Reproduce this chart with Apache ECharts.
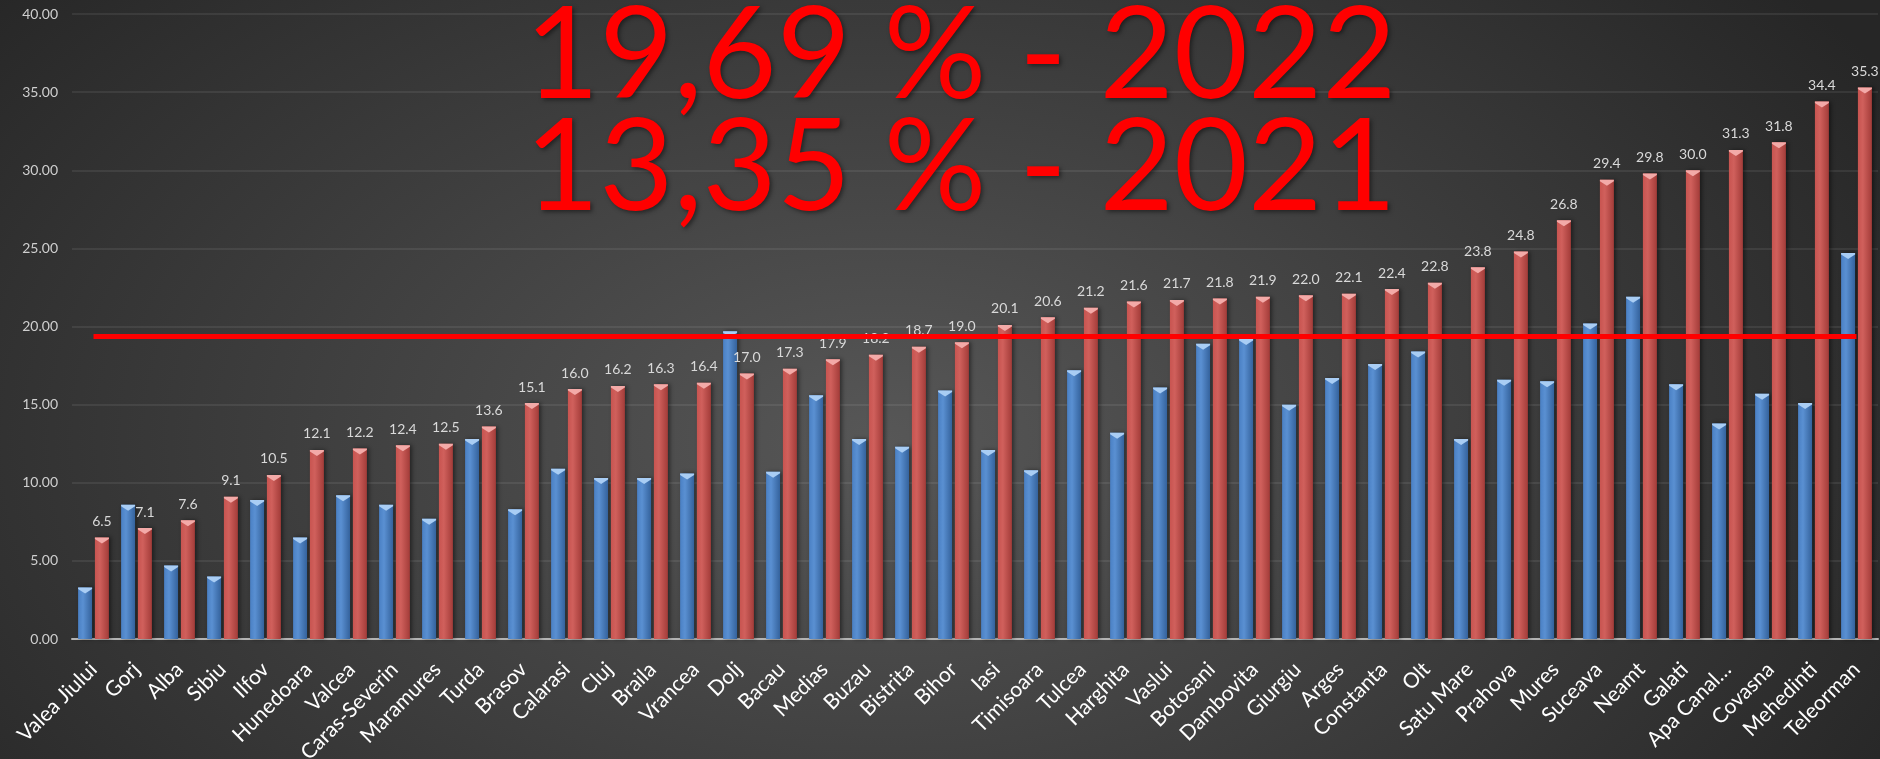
<!DOCTYPE html>
<html>
<head>
<meta charset="utf-8">
<title>Pierderi apa 2021 - 2022</title>
<script src="https://cdn.jsdelivr.net/npm/echarts@6/dist/echarts.min.js"></script>
<style>
  html, body { margin: 0; padding: 0; }
  #chart {
    width: 1880px;
    height: 759px;
    background: radial-gradient(ellipse 62% 95% at 47% 58%, #575757 0%, #3c3c3c 55%, #262626 100%);
  }
</style>
</head>
<body>
<div id="chart"></div>
<script>
// categories (operatori)
var categories = ['Valea Jiului', 'Gorj', 'Alba', 'Sibiu', 'Ilfov', 'Hunedoara', 'Valcea', 'Caras-Severin',
  'Maramures', 'Turda', 'Brasov', 'Calarasi', 'Cluj', 'Braila', 'Vrancea', 'Dolj', 'Bacau', 'Medias',
  'Buzau', 'Bistrita', 'Bihor', 'Iasi', 'Timisoara', 'Tulcea', 'Harghita', 'Vaslui', 'Botosani',
  'Dambovita', 'Giurgiu', 'Arges', 'Constanta', 'Olt', 'Satu Mare', 'Prahova', 'Mures', 'Suceava',
  'Neamt', 'Galati', 'Apa Canal…', 'Covasna', 'Mehedinti', 'Teleorman'];

// 2021 - blue bars (no labels)
var values2021 = [3.3, 8.6, 4.7, 4.0, 8.9, 6.5, 9.2, 8.6, 7.7, 12.8, 8.3, 10.9, 10.3, 10.3, 10.6,
  19.7, 10.7, 15.6, 12.8, 12.3, 15.9, 12.1, 10.8, 17.2, 13.2, 16.1, 18.9, 19.2, 15.0,
  16.7, 17.6, 18.4, 12.8, 16.6, 16.5, 20.2, 21.9, 16.3, 13.8, 15.7, 15.1, 24.7];

// 2022 - red bars (labelled)
var values2022 = [6.5, 7.1, 7.6, 9.1, 10.5, 12.1, 12.2, 12.4, 12.5, 13.6, 15.1, 16.0, 16.2, 16.3, 16.4,
  17.0, 17.3, 17.9, 18.2, 18.7, 19.0, 20.1, 20.6, 21.2, 21.6, 21.7, 21.8, 21.9, 22.0,
  22.1, 22.4, 22.8, 23.8, 24.8, 26.8, 29.4, 29.8, 30.0, 31.3, 31.8, 34.4, 35.3];

// hand drawn red reference line
var refLevel = 19.4;

var titleLines = ['19,69 % - 2022', '13,35 % - 2021'];

var FONT = 'Lato, "Open Sans", sans-serif';

function barGradient(edge, mid, dark) {
  return new echarts.graphic.LinearGradient(0, 0, 1, 0, [
    { offset: 0, color: edge },
    { offset: 0.35, color: mid },
    { offset: 1, color: dark }
  ]);
}

var capPath = 'path://M0,0 L14,0 L14,1.5 L7,6 L0,1.5 Z';

var chart = echarts.init(document.getElementById('chart'), null, { renderer: 'canvas' });

var option = {
  animation: false,
  backgroundColor: 'transparent',
  title: {
    text: titleLines.join('\n'),
    left: 525,
    top: 1,
    padding: 0,
    textStyle: {
      fontFamily: FONT,
      fontWeight: 'normal',
      fontSize: 128,
      lineHeight: 112,
      color: '#ff0000',
      textShadowColor: 'rgba(0,0,0,0.45)',
      textShadowBlur: 4,
      textShadowOffsetX: 2,
      textShadowOffsetY: 2
    }
  },
  grid: {
    left: 72,
    right: 2,
    top: 14,
    bottom: 120,
    outerBoundsMode: 'none'
  },
  xAxis: {
    type: 'category',
    data: categories,
    axisTick: { show: false },
    axisLine: { lineStyle: { color: '#b4b4b4', width: 2 } },
    axisLabel: {
      interval: 0,
      rotate: 45,
      margin: 27,
      color: '#ffffff',
      fontFamily: FONT,
      fontSize: 21
    }
  },
  yAxis: {
    type: 'value',
    min: 0,
    max: 40,
    interval: 5,
    axisLine: { show: false },
    axisTick: { show: false },
    splitLine: { lineStyle: { color: 'rgba(255,255,255,0.1)', width: 1.5 } },
    axisLabel: {
      margin: 14,
      color: '#cfcfcf',
      fontFamily: FONT,
      fontSize: 14,
      formatter: function (v) { return v.toFixed(2); }
    }
  },
  series: [
    {
      name: '2021',
      type: 'bar',
      data: values2021,
      barWidth: 14,
      barGap: '20%',
      itemStyle: {
        color: barGradient('#4a80c4', '#5a90d2', '#34629c'),
        shadowColor: 'rgba(0,0,0,0.45)',
        shadowBlur: 4,
        shadowOffsetX: 2
      }
    },
    {
      name: '2022',
      type: 'bar',
      data: values2022,
      barWidth: 14,
      barGap: '20%',
      itemStyle: {
        color: barGradient('#c85450', '#d0605c', '#a33c39'),
        shadowColor: 'rgba(0,0,0,0.45)',
        shadowBlur: 4,
        shadowOffsetX: 2
      },
      label: {
        show: true,
        position: 'top',
        distance: 9,
        color: '#d9d9d9',
        fontFamily: FONT,
        fontSize: 14,
        formatter: function (p) { return p.value.toFixed(1); }
      }
    },
    // bevel caps on top of the bars
    {
      name: '2021 cap',
      type: 'pictorialBar',
      data: values2021,
      barWidth: 14,
      barGap: '20%',
      symbol: capPath,
      symbolSize: [14, 6],
      symbolPosition: 'end',
      symbolRepeat: false,
      itemStyle: { color: '#a9cdf4' },
      z: 3
    },
    {
      name: '2022 cap',
      type: 'pictorialBar',
      data: values2022,
      barWidth: 14,
      barGap: '20%',
      symbol: capPath,
      symbolSize: [14, 6],
      symbolPosition: 'end',
      symbolRepeat: false,
      itemStyle: { color: '#f3aaa8' },
      z: 3
    },
    // red line drawn over everything
    {
      name: 'ref',
      type: 'line',
      data: [],
      z: 10,
      markLine: {
        silent: true,
        symbol: 'none',
        label: { show: false },
        lineStyle: { color: '#ff0000', width: 5, type: 'solid' },
        data: [[
          { coord: [0, refLevel] },
          { coord: [categories.length - 1, refLevel] }
        ]]
      }
    }
  ]
};

chart.setOption(option);
</script>
</body>
</html>
